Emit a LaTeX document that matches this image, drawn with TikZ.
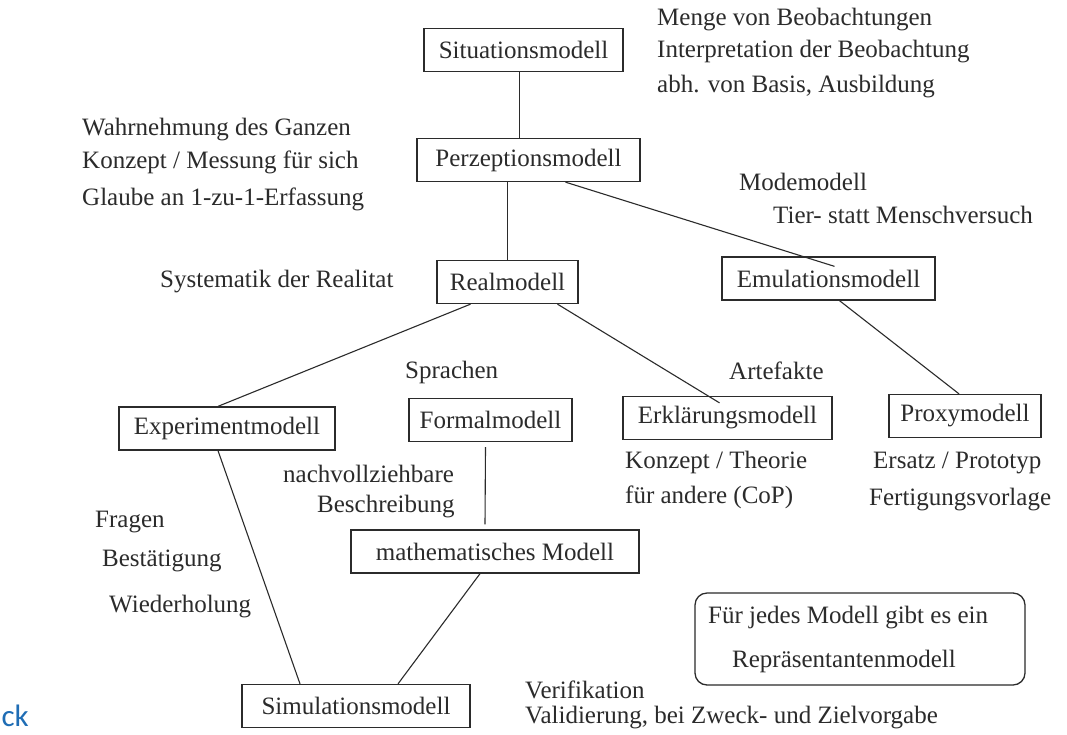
\documentclass[tikz,border=0pt]{standalone}
\usepackage{fontspec}
\setmainfont{Liberation Serif}
\newfontfamily\blfont{Carlito}
\usetikzlibrary{calc}
\definecolor{ink}{HTML}{2B2B2B}
\definecolor{blu}{HTML}{1F6DB5}
\begin{document}
\begin{tikzpicture}[x=1pt,y=-1pt,
  mbox/.style={draw=ink,line width=1.3pt,text=ink,font=\fontsize{25}{30}\selectfont,inner sep=0pt,minimum height=43pt},
  lbl/.style={text=ink,font=\fontsize{25}{30}\selectfont,inner sep=0pt,anchor=base west},
  conn/.style={draw=ink,line width=1.1pt}]
\useasboundingbox[fill=white] (0,0) rectangle (1067,734);

% model boxes
\node[mbox,minimum width=199pt] (sit) at (523.5,50) {Situationsmodell};
\node[mbox,minimum width=223pt] (perz) at (528.5,160) {Perzeptionsmodell};
\node[mbox,minimum width=141pt] (real) at (507.5,282) {Realmodell};
\node[mbox,minimum width=213pt] (emu) at (828.5,278.5) {Emulationsmodell};
\node[mbox,minimum width=216pt] (exp) at (227,428.5) {Experimentmodell};
\node[mbox,minimum width=163pt] (form) at (490.5,420) {Formalmodell};
\node[mbox,minimum width=209pt] (erk) at (727.5,418) {Erklärungsmodell};
\node[mbox,minimum width=152pt] (prox) at (965,416) {Proxymodell};
\node[mbox,minimum width=288pt] (math) at (495,551.5) {mathematisches Modell};
\node[mbox,minimum width=228pt] (sim) at (356,706) {Simulationsmodell};
\node[draw=ink,line width=1.3pt,rounded corners=12pt,minimum width=330pt,minimum height=92pt] (rep) at (860,639) {};

% labels
\node[lbl] (m1) at (657,25) {Menge von Beobachtungen};
\node[lbl] (m2) at (657,57) {Interpretation der Beobachtung};
\node[lbl] (m3) at (657,92) {abh. von Basis, Ausbildung};
\node[lbl] (w1) at (82,135) {Wahrnehmung des Ganzen};
\node[lbl] (w2) at (82,168) {Konzept / Messung für sich};
\node[lbl] (w3) at (82,205) {Glaube an 1-zu-1-Erfassung};
\node[lbl] (mo1) at (739,190) {Modemodell};
\node[lbl] (mo2) at (773,223) {Tier- statt Menschversuch};
\node[lbl] (sy) at (160,287) {Systematik der Realitat};
\node[lbl] (sp) at (405,378) {Sprachen};
\node[lbl] (ar) at (729,379) {Artefakte};
\node[lbl] (k1) at (625,468) {Konzept / Theorie};
\node[lbl] (k2) at (625,503) {für andere (CoP)};
\node[lbl] (e1) at (873,468) {Ersatz / Prototyp};
\node[lbl] (e2) at (869,505) {Fertigungsvorlage};
\node[lbl] (n1) at (283,482) {nachvollziehbare};
\node[lbl] (n2) at (317,512) {Beschreibung};
\node[lbl] (f1) at (95,527) {Fragen};
\node[lbl] (f2) at (102,566) {Bestätigung};
\node[lbl] (f3) at (109,612) {Wiederholung};
\node[lbl] (r1) at (708,623) {Für jedes Modell gibt es ein};
\node[lbl] (r2) at (732,667) {Repräsentantenmodell};
\node[lbl] (v1) at (525,698) {Verifikation};
\node[lbl] (v2) at (525,723) {Validierung, bei Zweck- und Zielvorgabe};
\node[text=blu,font=\blfont\fontsize{31}{34}\selectfont,inner sep=0pt,anchor=base east] (ck) at (29,726) {ck};

% connectors
\draw[conn] ([xshift=-4pt]sit.south) -- ([xshift=-9pt]perz.north);
\draw[conn] ([xshift=-21pt]perz.south) -- (real.north);
\draw[conn] ([xshift=37pt]perz.south) -- ([xshift=6pt,yshift=-10pt]emu.north);
\draw[conn] ([xshift=-37pt]real.south) -- ([xshift=-9pt]exp.north);
\draw[conn] ([xshift=50pt]real.south) -- ([xshift=-8pt,yshift=-7pt]erk.north);
\draw[conn] ([xshift=11pt]emu.south) -- ([xshift=-6pt]prox.north);
\draw[conn] ([xshift=-9pt]exp.south) -- ([xshift=-56pt]sim.north);
\draw[conn] ([xshift=-5pt,yshift=-5pt]form.south) -- ([xshift=-10pt,yshift=5pt]math.north);
\draw[conn] ([xshift=-15pt]math.south) -- ([xshift=42pt]sim.north);
\end{tikzpicture}
\end{document}
